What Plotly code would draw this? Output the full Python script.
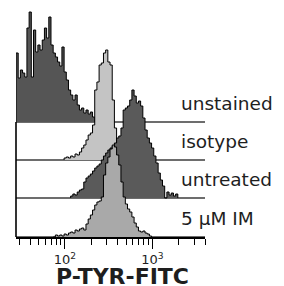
import numpy as np
import plotly.graph_objects as go

# ---- data -------------------------------------------------------------
# channel grid (log10 of fluorescence), histogram counts per channel
START = 1.4413      # log10 of first channel edge
STEP = 0.025        # channel width in decades
X_END = np.log10(4000)

labels = ["unstained", "isotype", "untreated", "5 \u00b5M IM"]
offsets = [115, 77, 39, 0]          # vertical offset of each stacked histogram
first_channel = [0, 22, 25, 17]

unstained = [69, 44, 52, 49, 45, 94, 110, 45, 92, 70, 77, 72, 82, 94, 84, 105, 77, 69,
             65, 60, 56, 75, 50, 42, 32, 27, 22, 27, 17, 12, 14, 9, 12, 8, 10, 5]
isotype = [2, 3, 2, 4, 3, 6, 5, 8, 12, 15, 20, 25, 27, 35, 70, 78, 95, 97, 107, 110,
           98, 95, 60, 32, 15, 5]
untreated = [2, 4, 3, 6, 8, 9, 16, 20, 22, 24, 27, 30, 32, 34, 38, 42, 45, 48, 50, 52,
             55, 60, 62, 70, 88, 90, 92, 98, 108, 102, 95, 97, 92, 80, 68, 60, 55, 50,
             42, 35, 25, 18, 12, 0, 6, 3, 5, 2, 4]
im = [0, 2, 1, 2, 1, 3, 2, 4, 5, 4, 7, 6, 8, 9, 7, 13, 18, 22, 27, 32, 35, 36, 40, 62,
      74, 80, 88, 92, 90, 82, 72, 55, 40, 33, 28, 25, 20, 14, 10, 6, 5, 6, 4, 3, 1]
series = [unstained, isotype, untreated, im]

major_ticks = [100, 1000]
major_text = ["10<sup>2</sup>", "10<sup>3</sup>"]
minor_ticks = [30, 40, 50, 60, 70, 80, 90, 200, 300, 400, 500, 600, 700, 800, 900,
               2000, 3000, 4000]

fills = ["#555555", "#c4c4c4", "#5a5a5a", "#a9a9a9"]
FONT = "DejaVu Sans"
Y_TOP = 229


def step_xy(ch0, counts, base):
    xs, ys = [10 ** (START + STEP * ch0)], [base]
    for k, c in enumerate(counts):
        lo = 10 ** (START + STEP * (ch0 + k))
        hi = 10 ** (START + STEP * (ch0 + k + 1))
        xs += [lo, hi]
        ys += [base + c, base + c]
    xs.append(hi)
    ys.append(base)
    return xs, ys


fig = go.Figure()
for name, base, ch0, counts, fc in zip(labels, offsets, first_channel, series, fills):
    # baseline of this histogram
    fig.add_trace(go.Scatter(x=[10 ** START, 10 ** X_END], y=[base, base], mode="lines",
                             line=dict(color="#3c3c3c", width=1.7), hoverinfo="skip"))
    xs, ys = step_xy(ch0, counts, base)
    fig.add_trace(go.Scatter(x=xs, y=ys, mode="lines", fill="toself", fillcolor=fc,
                             line=dict(color="black", width=1), name=name))
    fig.add_annotation(x=0.87, xref="paper", y=base + 19, yref="y", text=name,
                       showarrow=False, xanchor="left", yanchor="middle", borderpad=0,
                       font=dict(family=FONT, size=18.5, color="#1e1e1e"))

# left frame line for the stacked bands
fig.add_shape(type="line", xref="paper", x0=0, x1=0, yref="y", y0=0, y1=offsets[0],
              line=dict(color="black", width=1.6))

fig.add_annotation(x=0.562, xref="paper", y=-0.172, yref="paper",
                   text="<b>P-TYR-FITC</b>", showarrow=False, borderpad=0,
                   xanchor="center", yanchor="middle",
                   font=dict(family=FONT, size=22, color="#1e1e1e"))

fig.update_xaxes(type="log", range=[START, X_END], showline=True, linecolor="black",
                 linewidth=1.6, showgrid=False, zeroline=False,
                 tickmode="array", tickvals=major_ticks, ticktext=major_text,
                 ticks="outside", ticklen=10, tickwidth=1.3, tickcolor="black",
                 tickfont=dict(family=FONT, size=13, color="#1e1e1e"),
                 minor=dict(tickmode="array", tickvals=minor_ticks, ticks="outside",
                            ticklen=6, tickwidth=1.3, tickcolor="black", showgrid=False),
                 automargin=False)
fig.update_yaxes(range=[0, Y_TOP], visible=False, showgrid=False, zeroline=False)

# the page adds an 8px body margin, so the figure is sized to fit inside it
fig.update_layout(width=276, height=278, margin=dict(l=8, r=78.5, t=0, b=49),
                  paper_bgcolor="white", plot_bgcolor="white", showlegend=False)

fig.write_html("out.html")
